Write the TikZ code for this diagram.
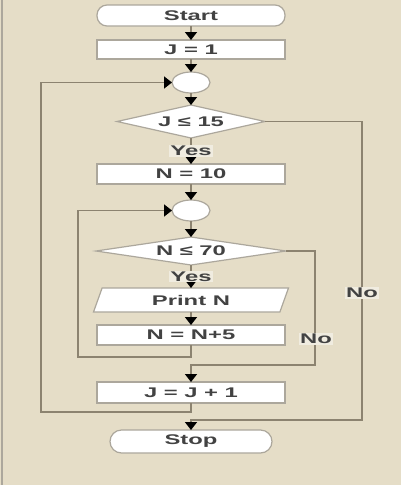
\documentclass[tikz,border=0pt]{standalone}
\usepackage{fontspec}
\newfontfamily\flowfont[FakeStretch=1.7]{Liberation Sans}
\usetikzlibrary{shapes,arrows.meta,positioning}

\definecolor{paper}{RGB}{229,221,199}
\definecolor{wire}{RGB}{140,131,112}
\definecolor{outline}{RGB}{172,167,156}
\definecolor{ink}{RGB}{66,66,66}
\definecolor{tag}{RGB}{240,236,224}

\begin{document}
\begin{tikzpicture}[
  node distance=14pt,
  box/.style={
    rectangle,
    draw=outline,
    line width=1.2pt,
    fill=white,
    text=ink,
    minimum width=188pt,
    minimum height=20pt,
    inner sep=0pt,
    outer sep=0pt,
    font=\flowfont\bfseries\fontsize{14pt}{16pt}\selectfont
  },
  term/.style={
    box,
    rounded corners=10pt
  },
  merge/.style={
    ellipse,
    draw=outline,
    line width=1.2pt,
    fill=white,
    minimum width=38pt,
    minimum height=21pt,
    inner sep=0pt,
    outer sep=0pt
  },
  test/.style={
    diamond,
    draw=outline,
    line width=1.2pt,
    fill=white,
    text=ink,
    aspect=4.5,
    inner sep=0pt,
    outer sep=0pt,
    font=\flowfont\bfseries\fontsize{14pt}{16pt}\selectfont
  },
  io/.style={
    trapezium,
    trapezium left angle=50,
    trapezium right angle=130,
    trapezium stretches body,
    draw=outline,
    line width=1.2pt,
    fill=white,
    text=ink,
    minimum width=195pt,
    minimum height=24pt,
    inner sep=0pt,
    outer sep=0pt,
    font=\flowfont\bfseries\fontsize{14pt}{16pt}\selectfont
  },
  flow/.style={
    -{Triangle[width=12pt,length=8pt,color=black]},
    draw=wire,
    line width=1.6pt
  },
  lbl/.style={
    fill=tag,
    text=ink,
    inner sep=1pt,
    font=\flowfont\bfseries\fontsize{14pt}{16pt}\selectfont
  }
]

% background and frame
\fill[paper] (0,0) rectangle (401pt,-485pt);
\useasboundingbox (0,0) rectangle (401pt,-485pt);
\draw[outline, line width=2pt] (2pt,0) -- (2pt,-485pt);

\node[term, minimum height=21pt] (start) at (191pt,-15.5pt) {Start};
\node[box, below=14pt of start, minimum height=19pt] (jone) {J = 1};
\node[merge, below=13pt of jone] (loopj) {};
\node[test, below=12pt of loopj, minimum width=148pt, minimum height=33pt] (testj) {J ≤ 15};
\node[box, below=26pt of testj] (nten) {N = 10};
\node[merge, below=16pt of nten] (loopn) {};
\node[test, below=16pt of loopn, minimum width=190pt, minimum height=28pt] (testn) {N ≤ 70};
\node[io, below=23pt of testn] (print) {Print N};
\node[box, below=13pt of print] (nstep) {N = N+5};
\node[box, below=37pt of nstep, minimum height=21pt] (jstep) {J = J + 1};
\node[term, below=27pt of jstep, minimum width=162pt, minimum height=23pt, rounded corners=11.5pt] (stop) {Stop};

% loop corners
\coordinate (innerleft) at (78pt,-357pt);
\coordinate (innerright) at (315pt,-365pt);
\coordinate (outerleft) at (41pt,-412pt);
\coordinate (outerright) at (362pt,-420pt);

\draw[flow] (start) -- (jone);
\draw[flow] (jone) -- (loopj);
\draw[flow] (loopj) -- (testj);
\draw[flow] (testj) -- node[lbl] {Yes} (nten);
\draw[flow] (nten) -- (loopn);
\draw[flow] (loopn) -- (testn);
\draw[flow] (testn) -- node[lbl] {Yes} (print);
\draw[flow] (print) -- (nstep);

\draw[flow] (nstep.south) |- (innerleft) |- (loopn.west);
\draw[flow] (testn.east) -| (innerright) -| (jstep.north);
\draw[flow] (jstep.south) |- (outerleft) |- (loopj.west);
\draw[flow] (testj.east) -| (outerright) -| (stop.north);

\node[lbl] (noinner) at (316pt,-339pt) {No};
\node[lbl] (noouter) at (362pt,-293pt) {No};

\end{tikzpicture}
\end{document}
